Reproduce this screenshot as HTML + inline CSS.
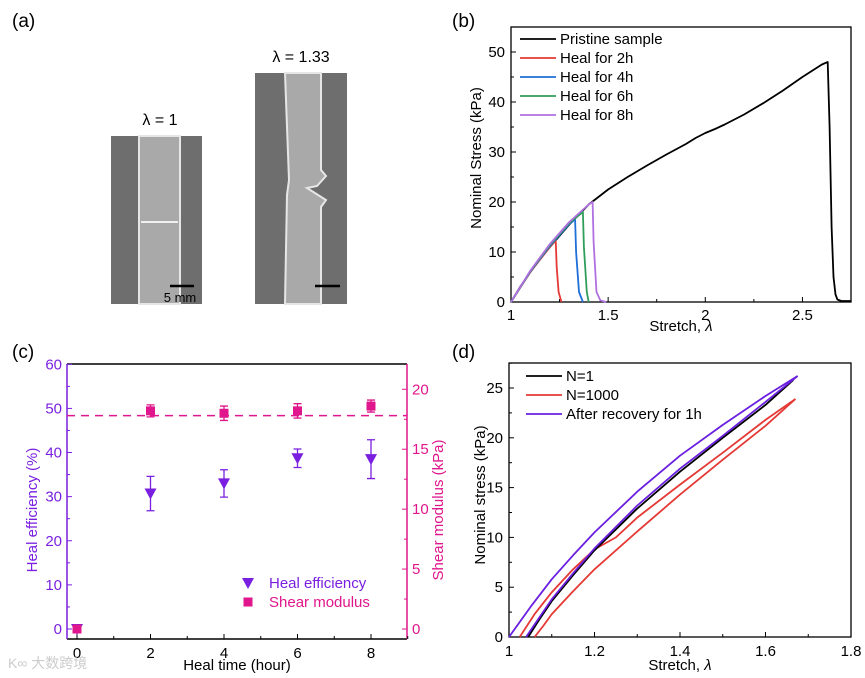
<!DOCTYPE html>
<html><head><meta charset="utf-8"><style>
html,body{margin:0;padding:0;background:#fff;}
svg{display:block;font-family:"Liberation Sans",Arial,sans-serif;}
</style></head><body>
<svg id="fig" width="865" height="678" viewBox="0 0 865 678" xmlns="http://www.w3.org/2000/svg">
<g>
<text x="12" y="27" font-size="19">(a)</text>
<text x="160" y="125" font-size="16" text-anchor="middle">λ = 1</text>
<rect x="111" y="136" width="91" height="168" fill="#6e6e6e"/>
<rect x="139" y="136" width="41" height="168" fill="#a9a9a9" stroke="#e6e6e6" stroke-width="2"/>
<line x1="141" y1="222" x2="178" y2="222" stroke="#f0f0f0" stroke-width="2"/>
<line x1="170" y1="286" x2="194" y2="286" stroke="#000" stroke-width="2.5"/>
<text x="180" y="302" font-size="13" text-anchor="middle">5 mm</text>
<text x="301" y="62" font-size="16" text-anchor="middle">λ = 1.33</text>
<rect x="255" y="73" width="92" height="231" fill="#6e6e6e"/>
<path d="M285,73 L321,73 L321,170 L326,176 L317,186 L307,188 L326,200 L321,207 L321,304 L285,304 L287,195 L289,180 Z" fill="#a9a9a9" stroke="#e6e6e6" stroke-width="2"/>
<line x1="315" y1="286" x2="340" y2="286" stroke="#000" stroke-width="2.5"/>
</g>
<g id="pb"><text x="452" y="27" font-size="19">(b)</text></g>
<g id="pc"><text x="12" y="358" font-size="19">(c)</text></g>
<g id="pd"><text x="452" y="358" font-size="19">(d)</text></g>
<text x="8" y="668" font-size="14" fill="#ccc" font-family="'Liberation Sans','Noto Sans CJK SC',sans-serif">K∞ 大数跨境</text>
</svg>
<script>
var bPristineX=[1,1.05,1.1,1.15,1.2,1.3,1.4,1.5,1.6,1.7,1.8,1.9,1.95,2,2.05,2.1,2.2,2.3,2.4,2.5,2.6,2.63,2.64,2.65,2.66,2.67,2.68,2.7,2.75];
var bPristineY=[0,3.2,6,8.6,11,15.5,19.5,22.5,25,27.3,29.5,31.6,32.8,33.8,34.6,35.5,37.5,39.8,42.3,45,47.5,48,35,15,5,1.5,0.5,0.2,0.2];
var bHeal2X=[1,1.1,1.2,1.23,1.235,1.245,1.26];var bHeal2Y=[0,6,11,12.3,7,2,0];
var bHeal4X=[1,1.1,1.2,1.3,1.33,1.335,1.35,1.37];var bHeal4Y=[0,6.1,11.2,15.6,16.5,10,2,0];
var bHeal6X=[1,1.1,1.2,1.3,1.37,1.375,1.39,1.4];var bHeal6Y=[0,6.2,11.4,15.8,18,11,2,0];
var bHeal8X=[1,1.1,1.2,1.3,1.4,1.42,1.425,1.44,1.46,1.49];var bHeal8Y=[0,6.3,11.6,16,19.5,20,12,2,0.3,0];
var bXTicks=[1,1.5,2,2.5];var bYTicks=[0,10,20,30,40,50];
var bLegend=["Pristine sample","Heal for 2h","Heal for 4h","Heal for 6h","Heal for 8h"];
var cTimes=[0,2,4,6,8];
var cHealEff=[0,30.7,33,38.7,38.5];
var cHealEffErr=[0,3.9,3.1,2.1,4.4];
var cShear=[0,18.2,18.0,18.2,18.6];
var cShearErr=[0,0.5,0.6,0.6,0.5];
var cShearMean=[17.8];
var cXTicks=[0,2,4,6,8];var cYTicks=[0,10,20,30,40,50,60];var cY2Ticks=[0,5,10,15,20];
var dPurpleUpX=[1,1.05,1.1,1.15,1.2,1.3,1.4,1.5,1.6,1.675];var dPurpleUpY=[0,3,5.8,8.2,10.5,14.6,18.2,21.3,24.2,26.2];
var dPurpleLoX=[1.04,1.07,1.1,1.15,1.2,1.3,1.4,1.5,1.6,1.675];var dPurpleLoY=[0,1.9,3.8,6.4,8.9,13.2,16.9,20.2,23.6,26.2];
var dBlackX=[1.045,1.07,1.1,1.15,1.2,1.3,1.4,1.5,1.6,1.665];var dBlackY=[0,1.7,3.6,6.2,8.7,12.9,16.6,20,23.3,25.8];
var dRedUpX=[1.025,1.06,1.1,1.15,1.2,1.25,1.3,1.4,1.5,1.6,1.67];var dRedUpY=[0,2.3,4.5,6.8,8.8,10,12,15.3,18.5,21.8,23.9];
var dRedLoX=[1.06,1.08,1.1,1.15,1.2,1.3,1.4,1.5,1.6,1.67];var dRedLoY=[0,1.1,2.3,4.6,6.8,10.6,14.3,17.8,21.2,23.9];
var dXTicks=[1,1.2,1.4,1.6,1.8];var dYTicks=[0,5,10,15,20,25];
var dLegend=["N=1","N=1000","After recovery for 1h"];

var NS="http://www.w3.org/2000/svg";
function mk(parent,tag,attrs,txt){var e=document.createElementNS(NS,tag);for(var k in attrs)e.setAttribute(k,attrs[k]);if(txt!==undefined)e.textContent=txt;parent.appendChild(e);return e;}
function lin(d0,d1,r0,r1){return function(v){return r0+(v-d0)*(r1-r0)/(d1-d0);};}
function pathD(xs,ys,sx,sy){var s="";for(var i=0;i<xs.length;i++)s+=(i?"L":"M")+sx(xs[i]).toFixed(1)+","+sy(ys[i]).toFixed(1);return s;}
var el;
var FS=15;

(function(){
var g=document.getElementById('pb');
var L=511,R=851,T=27,B=302;
var sx=lin(1,2.75,L,R),sy=lin(0,55,B,T);
el=mk(g,'rect',{x:L,y:T,width:R-L,height:B-T,fill:'none',stroke:'#000','stroke-width':1.3});

bXTicks.forEach(function(t){
 el=mk(g,'line',{x1:sx(t),x2:sx(t),y1:B,y2:B-5,stroke:'#000'});
 
 el=mk(g,'line',{x1:sx(t+0.25),x2:sx(t+0.25),y1:B,y2:B-3,stroke:'#000'});
 
 el=mk(g,'text',{x:sx(t),y:B+18,'font-size':FS,'text-anchor':'middle'},String(t));
 
});
bYTicks.forEach(function(t){
 el=mk(g,'line',{x1:L,x2:L+5,y1:sy(t),y2:sy(t),stroke:'#000'});
 
 el=mk(g,'line',{x1:L,x2:L+3,y1:sy(t+5),y2:sy(t+5),stroke:'#000'});
 
 el=mk(g,'text',{x:L-6,y:sy(t)+5,'font-size':FS,'text-anchor':'end'},String(t));
 
});
el=mk(g,'text',{x:(L+R)/2,y:331,'font-size':FS,'text-anchor':'middle'},'Stretch, ');

mk(el,'tspan',{'font-style':'italic'},'λ');
el=mk(g,'text',{x:0,y:0,'font-size':FS,'text-anchor':'middle',transform:'translate(481,158) rotate(-90)'},'Nominal Stress (kPa)');

var series=[[bPristineX,bPristineY,'#000','b-pristine-line'],[bHeal2X,bHeal2Y,'#e53935','b-heal-2h-line'],[bHeal4X,bHeal4Y,'#1e6fd9','b-heal-4h-line'],[bHeal6X,bHeal6Y,'#2e9e5a','b-heal-6h-line'],[bHeal8X,bHeal8Y,'#b070e0','b-heal-8h-line']];
series.forEach(function(s,i){
 el=mk(g,'path',{d:pathD(s[0],s[1],sx,sy),fill:'none',stroke:s[2],'stroke-width':1.8,'stroke-linejoin':'round'});
 
 var ly=39+i*19;
 el=mk(g,'line',{x1:520,x2:556,y1:ly,y2:ly,stroke:s[2],'stroke-width':1.8});
 
 el=mk(g,'text',{x:560,y:ly+5,'font-size':FS},bLegend[i]);
 
});
})();

(function(){
var g=document.getElementById('pc');
var L=67,R=407,T=364,B=639;
var sx=lin(0,8,77,371),sy=lin(0,60,629,364.3),sy2=lin(0,20,629,389.3);
var pur='#7a1fe0',pink='#e0168c';
el=mk(g,'line',{x1:L,x2:R,y1:T,y2:T,stroke:'#000','stroke-width':1.5});

el=mk(g,'line',{x1:L,x2:R,y1:B,y2:B,stroke:'#000','stroke-width':1.5});

el=mk(g,'line',{x1:L,x2:L,y1:T,y2:B,stroke:pur,'stroke-width':1.5});

el=mk(g,'line',{x1:R,x2:R,y1:T,y2:B,stroke:pink,'stroke-width':1.5});

cXTicks.forEach(function(t){
 el=mk(g,'line',{x1:sx(t),x2:sx(t),y1:B,y2:B-5,stroke:'#000'});
 
 el=mk(g,'line',{x1:sx(t+1),x2:sx(t+1),y1:B,y2:B-3,stroke:'#000'});
 
 el=mk(g,'text',{x:sx(t),y:B+19,'font-size':FS,'text-anchor':'middle'},String(t));
 
});
cYTicks.forEach(function(t){
 el=mk(g,'line',{x1:L,x2:L+5,y1:sy(t),y2:sy(t),stroke:pur});
 
 if(t<60){el=mk(g,'line',{x1:L,x2:L+3,y1:sy(t+5),y2:sy(t+5),stroke:pur});
 }
 el=mk(g,'text',{x:L-5,y:sy(t)+5,'font-size':FS,'text-anchor':'end',fill:pur},String(t));
 
});
cY2Ticks.forEach(function(t){
 el=mk(g,'line',{x1:R,x2:R-5,y1:sy2(t),y2:sy2(t),stroke:pink});
 
 if(sy2(t+2.5)>T){el=mk(g,'line',{x1:R,x2:R-3,y1:sy2(t+2.5),y2:sy2(t+2.5),stroke:pink});
 }
 el=mk(g,'text',{x:R+5,y:sy2(t)+5,'font-size':FS,fill:pink},String(t));
 
});
el=mk(g,'text',{x:(L+R)/2,y:670,'font-size':FS,'text-anchor':'middle'},'Heal time (hour)');

el=mk(g,'text',{x:0,y:0,'font-size':FS,'text-anchor':'middle',fill:pur,transform:'translate(37,510) rotate(-90)'},'Heal efficiency (%)');

el=mk(g,'text',{x:0,y:0,'font-size':FS,'text-anchor':'middle',fill:pink,transform:'translate(443,510) rotate(-90)'},'Shear modulus (kPa)');

el=mk(g,'line',{x1:L,x2:R,y1:sy2(cShearMean[0]),y2:sy2(cShearMean[0]),stroke:pink,'stroke-width':1.5,'stroke-dasharray':'8,6'});

cTimes.forEach(function(t,i){
 var x=sx(t);
 if(cHealEffErr[i]>0){
  el=mk(g,'path',{d:'M'+x+','+sy(cHealEff[i]-cHealEffErr[i])+'V'+sy(cHealEff[i]+cHealEffErr[i])+'M'+(x-4)+','+sy(cHealEff[i]-cHealEffErr[i])+'h8M'+(x-4)+','+sy(cHealEff[i]+cHealEffErr[i])+'h8',stroke:pur,'stroke-width':1.3,fill:'none'});
  
 }
 var y=sy(cHealEff[i]);
 el=mk(g,'path',{d:'M'+(x-6)+','+(y-5)+'h12L'+x+','+(y+6)+'Z',fill:pur});
 
 if(cShearErr[i]>0){
  el=mk(g,'path',{d:'M'+x+','+sy2(cShear[i]-cShearErr[i])+'V'+sy2(cShear[i]+cShearErr[i])+'M'+(x-4)+','+sy2(cShear[i]-cShearErr[i])+'h8M'+(x-4)+','+sy2(cShear[i]+cShearErr[i])+'h8',stroke:pink,'stroke-width':1.3,fill:'none'});
  
 }
 el=mk(g,'rect',{x:x-4.5,y:sy2(cShear[i])-4.5,width:9,height:9,fill:pink});
 
});
el=mk(g,'path',{d:'M242,578h12L248,589Z',fill:pur});

el=mk(g,'text',{x:269,y:588,'font-size':FS,fill:pur},'Heal efficiency');

el=mk(g,'rect',{x:243.5,y:597.5,width:9,height:9,fill:pink});

el=mk(g,'text',{x:269,y:607,'font-size':FS,fill:pink},'Shear modulus');

})();

(function(){
var g=document.getElementById('pd');
var L=509,R=851,T=363,B=637;
var sx=lin(1,1.8,L,R),sy=lin(0,25,B,388);
el=mk(g,'rect',{x:L,y:T,width:R-L,height:B-T,fill:'none',stroke:'#000','stroke-width':1.3});

dXTicks.forEach(function(t){
 el=mk(g,'line',{x1:sx(t),x2:sx(t),y1:B,y2:B-5,stroke:'#000'});
 
 if(t<1.8){el=mk(g,'line',{x1:sx(t+0.1),x2:sx(t+0.1),y1:B,y2:B-3,stroke:'#000'});
 }
 el=mk(g,'text',{x:sx(t),y:B+19,'font-size':FS,'text-anchor':'middle'},String(t));
 
});
dYTicks.forEach(function(t){
 el=mk(g,'line',{x1:L,x2:L+5,y1:sy(t),y2:sy(t),stroke:'#000'});
 
 el=mk(g,'line',{x1:L,x2:L+3,y1:sy(t+2.5),y2:sy(t+2.5),stroke:'#000'});
 
 el=mk(g,'text',{x:L-6,y:sy(t)+5,'font-size':FS,'text-anchor':'end'},String(t));
 
});
el=mk(g,'text',{x:(L+R)/2,y:670,'font-size':FS,'text-anchor':'middle'},'Stretch, ');

mk(el,'tspan',{'font-style':'italic'},'λ');
el=mk(g,'text',{x:0,y:0,'font-size':FS,'text-anchor':'middle',transform:'translate(485,495) rotate(-90)'},'Nominal stress (kPa)');

var series=[[dRedUpX,dRedUpY,'#e53935','d-n1000-loading-line'],[dRedLoX,dRedLoY,'#e53935','d-n1000-unloading-line'],[dBlackX,dBlackY,'#000','d-n1-line'],[dPurpleUpX,dPurpleUpY,'#6a1fe0','d-recovery-loading-line'],[dPurpleLoX,dPurpleLoY,'#6a1fe0','d-recovery-unloading-line']];
series.forEach(function(s){
 el=mk(g,'path',{d:pathD(s[0],s[1],sx,sy),fill:'none',stroke:s[2],'stroke-width':1.8,'stroke-linejoin':'round'});
 
});
var cols=['#000','#e53935','#6a1fe0'];
dLegend.forEach(function(n,i){
 var ly=376+i*19;
 el=mk(g,'line',{x1:526,x2:562,y1:ly,y2:ly,stroke:cols[i],'stroke-width':1.8});
 
 el=mk(g,'text',{x:566,y:ly+5,'font-size':FS},n);
 
});
})();
</script>
</body></html>
